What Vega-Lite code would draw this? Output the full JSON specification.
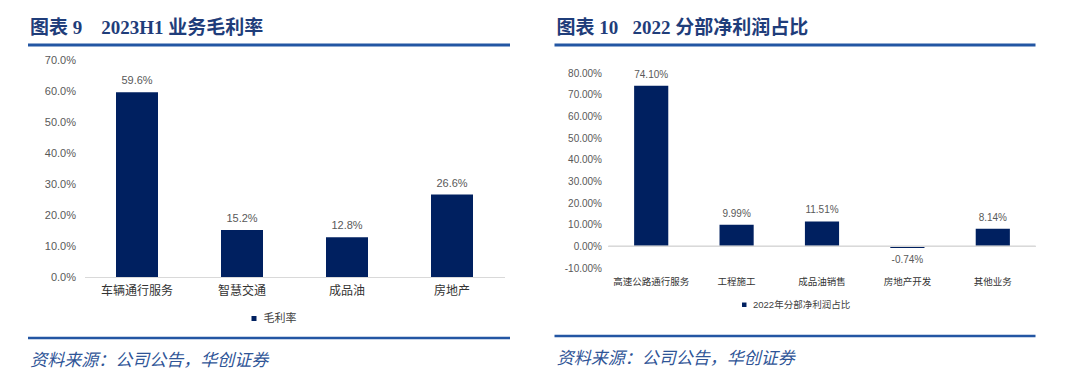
{
  "$schema": "https://vega.github.io/schema/vega-lite/v6.json",
  "padding": {"left": 26.5, "top": 18, "right": 0, "bottom": 0},
  "background": "white",
  "config": {
    "view": {"stroke": null},
    "locale": {"number": {"decimal": ".", "thousands": ",", "grouping": [3], "currency": ["", ""], "minus": "-"}}
  },
  "datasets": {
    "left": [
      {"业务": "车辆通行服务", "毛利率": 0.596, "系列": "毛利率"},
      {"业务": "智慧交通", "毛利率": 0.152, "系列": "毛利率"},
      {"业务": "成品油", "毛利率": 0.128, "系列": "毛利率"},
      {"业务": "房地产", "毛利率": 0.266, "系列": "毛利率"}
    ],
    "right": [
      {"分部": "高速公路通行服务", "占比": 0.741, "系列": "2022年分部净利润占比"},
      {"分部": "工程施工", "占比": 0.0999, "系列": "2022年分部净利润占比"},
      {"分部": "成品油销售", "占比": 0.1151, "系列": "2022年分部净利润占比"},
      {"分部": "房地产开发", "占比": -0.0074, "系列": "2022年分部净利润占比"},
      {"分部": "其他业务", "占比": 0.0814, "系列": "2022年分部净利润占比"}
    ]
  },
  "spacing": 41,
  "resolve": {"scale": {"color": "independent"}, "legend": {"color": "independent"}},
  "hconcat": [
    {
      "spacing": 0,
      "resolve": {"scale": {"color": "independent"}, "legend": {"color": "independent"}},
      "vconcat": [
        {
          "title": {"text": "图表 9\u00a0\u00a0\u00a0\u00a02023H1 业务毛利率", "anchor": "start", "frame": "bounds", "font": "Liberation Serif, Noto Sans CJK SC", "fontSize": 19, "fontWeight": "bold", "color": "#1F3D7A", "offset": 6, "dx": 3.5},
          "width": 425.5, "height": 8.5,
          "data": {"values": [{}]},
          "mark": {"type": "rule", "color": "#2356A3", "strokeWidth": 3},
          "encoding": {
            "x": {"datum": 0, "type": "quantitative", "scale": {"domain": [0.1172, 1]}, "axis": null},
            "x2": {"datum": 1},
            "y": {"datum": 1, "type": "quantitative", "scale": {"domain": [0, 1]}, "axis": null}
          }
        },
        {
          "width": 420, "height": 217,
          "data": {"name": "left"},
          "encoding": {
            "x": {"field": "业务", "type": "nominal", "sort": null,
              "scale": {"paddingInner": 0.6, "paddingOuter": 0.3},
              "axis": {"title": null, "labelAngle": 0, "domain": true, "domainColor": "#D9D9D9", "domainWidth": 1, "ticks": false, "tickSize": 0, "labelPadding": 8, "labelFont": "Noto Sans CJK SC", "labelFontSize": 12, "labelColor": "#333333"}},
            "y": {"field": "毛利率", "type": "quantitative",
              "scale": {"domain": [0, 0.7]},
              "axis": {"title": null, "format": ".1%", "values": [0, 0.1, 0.2, 0.3, 0.4, 0.5, 0.6, 0.7], "grid": false, "domain": false, "ticks": false, "tickSize": 0, "labelPadding": 9, "labelFont": "Liberation Sans", "labelFontSize": 11, "labelColor": "#595959", "minExtent": 56.5, "maxExtent": 56.5}}
          },
          "layer": [
            {
              "mark": {"type": "bar"},
              "encoding": {
                "color": {"field": "系列", "type": "nominal", "scale": {"range": ["#002060"]},
                  "legend": {"title": null, "orient": "none", "legendX": 164, "legendY": 253, "symbolType": "square", "symbolSize": 25, "symbolStrokeWidth": 0, "labelFont": "Noto Sans CJK SC", "labelFontSize": 11, "labelColor": "#404040", "labelOffset": 4}}
              }
            },
            {
              "mark": {"type": "text", "baseline": "bottom", "dy": -6, "font": "Liberation Sans", "fontSize": 11, "color": "#595959"},
              "encoding": {"text": {"field": "毛利率", "format": ".1%"}}
            }
          ]
        },
        {
          "title": {"text": "资料来源：公司公告，华创证券", "orient": "bottom", "anchor": "start", "frame": "bounds", "font": "Noto Sans CJK SC", "fontSize": 17, "fontStyle": "italic", "fontWeight": "normal", "color": "#2F5597", "offset": 14, "dx": 3.5},
          "width": 425.5, "height": 14,
          "data": {"values": [{}]},
          "mark": {"type": "rule", "color": "#2356A3", "strokeWidth": 2.5},
          "encoding": {
            "x": {"datum": 0, "type": "quantitative", "scale": {"domain": [0.1172, 1]}, "axis": null},
            "x2": {"datum": 1},
            "y": {"datum": 0, "type": "quantitative", "scale": {"domain": [0, 1]}, "axis": null}
          }
        }
      ]
    },
    {
      "spacing": 0,
      "resolve": {"scale": {"color": "independent"}, "legend": {"color": "independent"}},
      "vconcat": [
        {
          "title": {"text": "图表 10\u00a0\u00a0\u00a02022 分部净利润占比", "anchor": "start", "frame": "bounds", "font": "Liberation Serif, Noto Sans CJK SC", "fontSize": 19, "fontWeight": "bold", "color": "#1F3D7A", "offset": 6, "dx": 3.5},
          "width": 427, "height": 22.5,
          "data": {"values": [{}]},
          "mark": {"type": "rule", "color": "#2356A3", "strokeWidth": 3},
          "encoding": {
            "x": {"datum": 0, "type": "quantitative", "scale": {"domain": [0.11227, 1]}, "axis": null},
            "x2": {"datum": 1},
            "y": {"datum": 1, "type": "quantitative", "scale": {"domain": [0, 1]}, "axis": null}
          }
        },
        {
          "width": 427, "height": 195,
          "data": {"name": "right"},
          "encoding": {
            "x": {"field": "分部", "type": "nominal", "sort": null,
              "scale": {"paddingInner": 0.6, "paddingOuter": 0.3},
              "axis": {"title": null, "labelAngle": 0, "domain": false, "ticks": false, "tickSize": 0, "labelPadding": 8, "labelFont": "Noto Sans CJK SC", "labelFontSize": 9.5, "labelColor": "#333333"}},
            "y": {"field": "占比", "type": "quantitative",
              "scale": {"domain": [-0.1, 0.8]},
              "axis": {"title": null, "format": ".2%", "values": [-0.1, 0, 0.1, 0.2, 0.3, 0.4, 0.5, 0.6, 0.7, 0.8], "grid": false, "domain": false, "ticks": false, "tickSize": 0, "labelPadding": 7, "labelFont": "Liberation Sans", "labelFontSize": 10, "labelColor": "#595959", "minExtent": 54, "maxExtent": 54}}
          },
          "layer": [
            {
              "mark": {"type": "bar"},
              "encoding": {
                "color": {"field": "系列", "type": "nominal", "scale": {"range": ["#002060"]},
                  "legend": {"title": null, "orient": "none", "legendX": 131, "legendY": 227, "symbolType": "square", "symbolSize": 20, "symbolStrokeWidth": 0, "labelFont": "Liberation Sans, Noto Sans CJK SC", "labelFontSize": 9.5, "labelColor": "#404040", "labelOffset": 4}}
              }
            },
            {
              "mark": {"type": "rule", "color": "#D9D9D9", "strokeWidth": 1},
              "encoding": {"x": null, "y": {"datum": 0, "type": "quantitative"}}
            },
            {
              "transform": [{"filter": "datum['占比'] >= 0"}],
              "mark": {"type": "text", "baseline": "bottom", "dy": -6, "font": "Liberation Sans", "fontSize": 10, "color": "#595959"},
              "encoding": {"text": {"field": "占比", "format": ".2%"}}
            },
            {
              "transform": [{"filter": "datum['占比'] < 0"}],
              "mark": {"type": "text", "baseline": "top", "dy": 7, "font": "Liberation Sans", "fontSize": 10, "color": "#595959"},
              "encoding": {"text": {"field": "占比", "format": ".2%"}}
            }
          ]
        },
        {
          "title": {"text": "资料来源：公司公告，华创证券", "orient": "bottom", "anchor": "start", "frame": "bounds", "font": "Noto Sans CJK SC", "fontSize": 17, "fontStyle": "italic", "fontWeight": "normal", "color": "#2F5597", "offset": 14, "dx": 3.5},
          "width": 427, "height": 26,
          "data": {"values": [{}]},
          "mark": {"type": "rule", "color": "#2356A3", "strokeWidth": 2.5},
          "encoding": {
            "x": {"datum": 0, "type": "quantitative", "scale": {"domain": [0.11227, 1]}, "axis": null},
            "x2": {"datum": 1},
            "y": {"datum": 0, "type": "quantitative", "scale": {"domain": [0, 1]}, "axis": null}
          }
        }
      ]
    }
  ]
}
